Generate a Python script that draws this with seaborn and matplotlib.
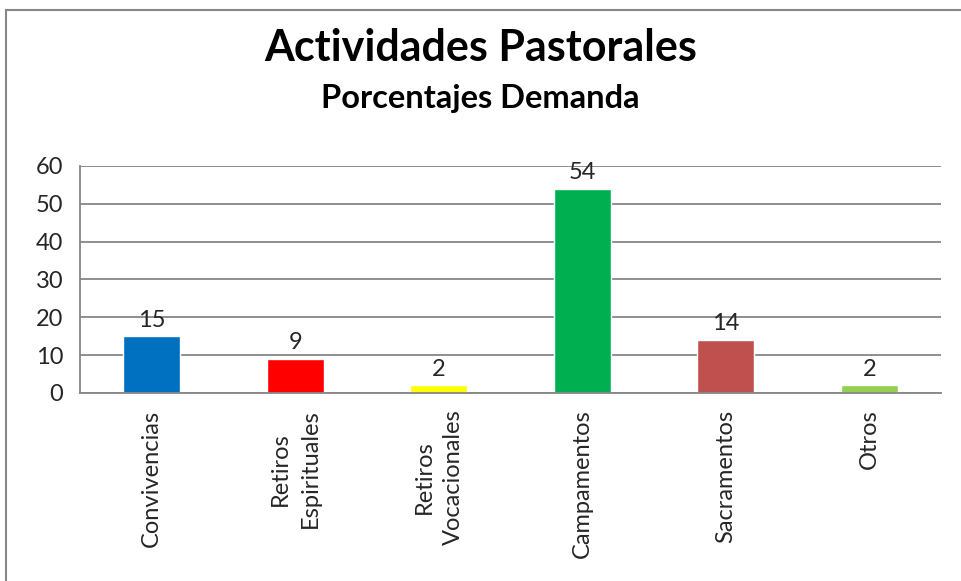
import numpy as np
import pandas as pd
import seaborn as sns
import matplotlib.pyplot as plt
from matplotlib.patches import Rectangle

categories = ['Convivencias', 'Retiros\nEspirituales', 'Retiros\nVocacionales',
              'Campamentos', 'Sacramentos', 'Otros']
values = [15, 9, 2, 54, 14, 2]
colors = ['#0070C0', '#FF0000', '#FFFF00', '#00B050', '#C0504D', '#92D050']

sns.set_style('white')
plt.rcParams['font.family'] = ['Lato', 'DejaVu Sans']

df = pd.DataFrame({'actividad': categories, 'valor': values})

fig = plt.figure(figsize=(9.61, 5.81), dpi=100)
ax = fig.add_axes([0.0832, 0.3236, 0.8960, 0.3907])

sns.barplot(data=df, x='actividad', y='valor', hue='actividad', palette=colors,
            legend=False, width=0.4, saturation=1, ax=ax)

grid_col = '#868686'
ax.set_ylim(0, 60)
ax.set_xlim(-0.5, len(categories) - 0.5)
ax.set_yticks(range(0, 61, 10))
ax.yaxis.grid(True, color=grid_col, linewidth=1.3)
ax.set_axisbelow(True)
for s in ['top', 'right']:
    ax.spines[s].set_visible(False)
for s in ['left', 'bottom']:
    ax.spines[s].set_color(grid_col)
    ax.spines[s].set_linewidth(1.3)

ax.tick_params(axis='y', length=8, width=1.3, color=grid_col, labelsize=17, pad=4)
ax.set_xticks(range(len(categories)))
ax.set_xticklabels(categories, rotation=90, fontsize=17, ha='center', va='top',
                   multialignment='center', linespacing=1.5)
ax.tick_params(axis='x', which='major', length=0, pad=12)
ax.set_xticks(np.arange(-0.5, len(categories), 1), minor=True)
ax.tick_params(axis='x', which='minor', length=8, width=1.3, color=grid_col)
ax.set_xlabel('')
ax.set_ylabel('')

for c in ax.containers:
    ax.bar_label(c, fontsize=17, padding=4)

fig.text(0.5, 0.918, 'Actividades Pastorales', ha='center', va='center',
         fontsize=31, fontweight='bold', color='black')
fig.text(0.5, 0.830, 'Porcentajes Demanda', ha='center', va='center',
         fontsize=23.5, fontweight='bold', color='black')

fig.patches.append(Rectangle((0.006, -0.05), 1.2, 1.033, transform=fig.transFigure,
                             fill=False, edgecolor='#888888', linewidth=1.5))

fig.savefig('out.png', dpi=100)
